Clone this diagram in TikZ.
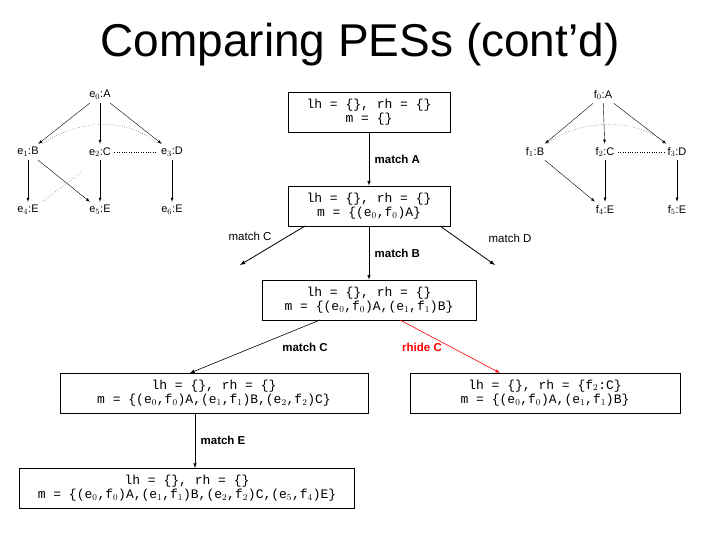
\documentclass[tikz,border=0pt]{standalone}
\usepackage{fontspec}
\setmainfont{Liberation Sans}
\setmonofont{Liberation Mono}
\begin{document}
\begin{tikzpicture}[x=1pt,y=-1pt,>=latex,
	ev/.style={font=\fontsize{11}{12}\selectfont},
	st/.style={draw,thick,font=\ttfamily\fontsize{13}{14.5}\selectfont,align=center,inner sep=3pt},
	lab/.style={font=\bfseries\fontsize{11.5}{13}\selectfont}]
	\useasboundingbox (0,0) rectangle (720,540);
	\node[font=\fontsize{46}{50}\selectfont] (title) at (360,45) {Comparing PESs (cont’d)};
	% left structure
	\node[ev] (e0) at (100,95) {e$_0$:A};
	\node[ev] (e1) at (28,152) {e$_1$:B};
	\node[ev] (e2) at (100,152) {e$_2$:C};
	\node[ev] (e3) at (172,152) {e$_3$:D};
	\node[ev] (e4) at (28,210) {e$_4$:E};
	\node[ev] (e5) at (100,210) {e$_5$:E};
	\node[ev] (e6) at (172,210) {e$_6$:E};
	\draw[->] (e0) -- (e1);
	\draw[->] (e0) -- (e2);
	\draw[->] (e0) -- (e3);
	\draw[->] (e1) -- (e4);
	\draw[->] (e1) -- (e5);
	\draw[->] (e2) -- (e5);
	\draw[->] (e3) -- (e6);
	\draw[dotted] (e1.north east) .. controls (80,118) and (130,118) .. (e3.north west);
	\draw[dotted] (e2) -- (e3);
	\draw[dotted] (e4.north east) -- (82,172);
	% right structure
	\node[ev] (f0) at (603,95) {f$_0$:A};
	\node[ev] (f1) at (535,152) {f$_1$:B};
	\node[ev] (f2) at (605,152) {f$_2$:C};
	\node[ev] (f3) at (677,152) {f$_3$:D};
	\node[ev] (f4) at (605,210) {f$_4$:E};
	\node[ev] (f5) at (677,210) {f$_5$:E};
	\draw[->] (f0) -- (f1);
	\draw[->] (f0) -- (f2);
	\draw[->] (f0) -- (f3);
	\draw[->] (f1) -- (f4);
	\draw[->] (f2) -- (f4);
	\draw[->] (f3) -- (f5);
	\draw[dotted] (f1.north east) .. controls (580,118) and (640,118) .. (f3.north west);
	\draw[dotted] (f2) -- (f3);
	% search tree
	\node[st,minimum width=162pt,minimum height=40pt] (s0) at (369,112) {lh = \{\}, rh = \{\}\\m = \{\}};
	\node[st,minimum width=162pt,minimum height=40pt] (s1) at (369,206) {lh = \{\}, rh = \{\}\\m = \{(e$_0$,f$_0$)A\}};
	\node[st,minimum width=214pt,minimum height=40pt] (s2) at (369,300) {lh = \{\}, rh = \{\}\\m = \{(e$_0$,f$_0$)A,(e$_1$,f$_1$)B\}};
	\node[st,minimum width=308pt,minimum height=40pt] (s3) at (214,393) {lh = \{\}, rh = \{\}\\m = \{(e$_0$,f$_0$)A,(e$_1$,f$_1$)B,(e$_2$,f$_2$)C\}};
	\node[st,minimum width=270pt,minimum height=40pt] (s4) at (545,393) {lh = \{\}, rh = \{f$_2$:C\}\\m = \{(e$_0$,f$_0$)A,(e$_1$,f$_1$)B\}};
	\node[st,minimum width=335pt,minimum height=40pt] (s5) at (187,488) {lh = \{\}, rh = \{\}\\m = \{(e$_0$,f$_0$)A,(e$_1$,f$_1$)B,(e$_2$,f$_2$)C,(e$_5$,f$_4$)E\}};
	\coordinate (c1) at (305,226);
	\coordinate (d1) at (440,226);
	\coordinate (dc) at (240,265);
	\coordinate (dd) at (495,265);
	\coordinate (c2) at (320,320);
	\coordinate (c3) at (190,373);
	\coordinate (r2) at (400,320);
	\coordinate (r3) at (500,373);
	\coordinate (e3a) at (195,413);
	\coordinate (e3b) at (195,468);
	\draw[->,semithick] (s0) -- node[lab,right=2pt] {match A} (s1);
	\draw[->,thick] (c1) -- (dc);
	\draw[->,thick] (d1) -- (dd);
	\node[font=\fontsize{11.5}{13}\selectfont] (mc) at (250,236) {match C};
	\node[font=\fontsize{11.5}{13}\selectfont] (md) at (510,238) {match D};
	\draw[->,semithick] (s1) -- node[lab,right=2pt] {match B} (s2);
	\draw[->,semithick] (c2) -- (c3);
	\node[lab] (lc) at (305,347) {match C};
	\draw[->,semithick,red] (r2) -- (r3);
	\node[lab,red] (lr) at (422,347) {rhide C};
	\draw[->,semithick] (e3a) -- node[lab,right=2pt] {match E} (e3b);
\end{tikzpicture}
\end{document}
